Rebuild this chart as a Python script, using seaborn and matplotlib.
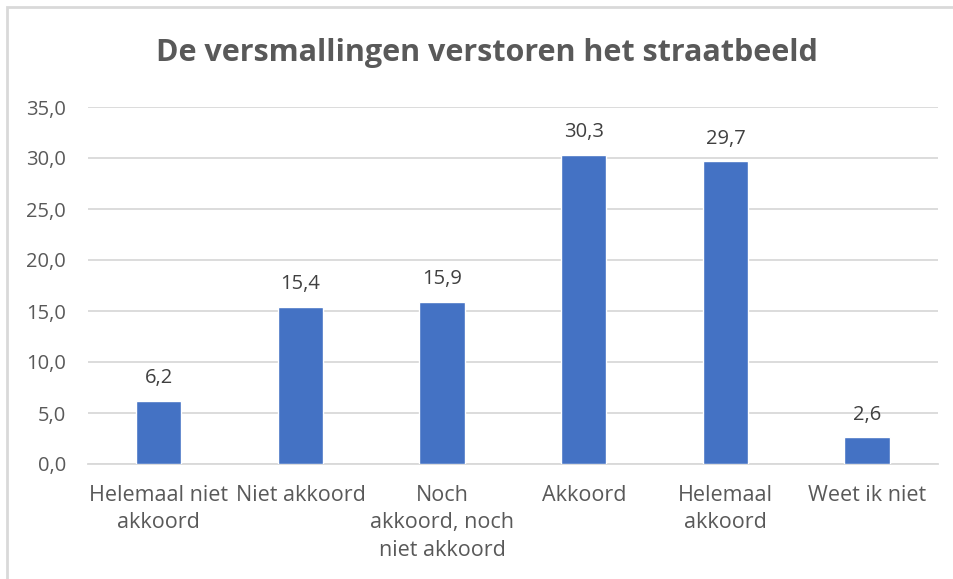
import matplotlib
matplotlib.use("Agg")
import matplotlib.pyplot as plt
import seaborn as sns
import pandas as pd
from matplotlib.patches import Rectangle

categories = ["Helemaal niet\nakkoord", "Niet akkoord", "Noch\nakkoord, noch\nniet akkoord",
              "Akkoord", "Helemaal\nakkoord", "Weet ik niet"]
values = [6.2, 15.4, 15.9, 30.3, 29.7, 2.6]
yticks = [0, 5, 10, 15, 20, 25, 30, 35]
title = "De versmallingen verstoren het straatbeeld"

df = pd.DataFrame({"categorie": categories, "waarde": values})

sns.set_style("white")
plt.rcParams['font.family'] = ['Open Sans', 'DejaVu Sans']
text_color = "#595959"
grid_color = "#D9D9D9"

fig = plt.figure(figsize=(9.54, 5.79), dpi=100)
ax = fig.add_axes([88 / 954, 1 - 464 / 579, (938 - 88) / 954, (464 - 107) / 579])

sns.barplot(data=df, x="categorie", y="waarde", color="#4472C4", width=0.32,
            saturation=1, ax=ax, zorder=3)

ax.set_ylim(0, 35)
ax.set_yticks(yticks)
ax.set_yticklabels([f"{t:.1f}".replace(".", ",") for t in yticks])
ax.yaxis.grid(True, color=grid_color, linewidth=1.3, zorder=0)
ax.set_axisbelow(True)
for side in ["top", "right", "left"]:
    ax.spines[side].set_visible(False)
ax.spines["bottom"].set_color(grid_color)
ax.spines["bottom"].set_linewidth(1.3)
ax.tick_params(axis="y", length=0, labelsize=14.5, colors=text_color, pad=16)
ax.tick_params(axis="x", length=0, labelsize=15.5, colors=text_color, pad=15)
for lbl in ax.get_xticklabels():
    lbl.set_linespacing(1.4)
ax.set_xlabel("")
ax.set_ylabel("")

for i, v in enumerate(values):
    ax.annotate(f"{v:.1f}".replace(".", ","), (i, v), xytext=(0, 9),
                textcoords="offset points", ha="center", va="bottom",
                fontsize=14.5, color="#404040")

fig.text(487 / 954, 1 - 53 / 579, title, ha="center", va="center",
         fontsize=22, fontweight="bold", color=text_color)

fig.patches.append(Rectangle((7 / 954, -0.1), 1.1, 1 - 7 / 579 + 0.1,
                             transform=fig.transFigure, fill=False,
                             edgecolor=grid_color, linewidth=2))

fig.savefig("out.png", dpi=100)
